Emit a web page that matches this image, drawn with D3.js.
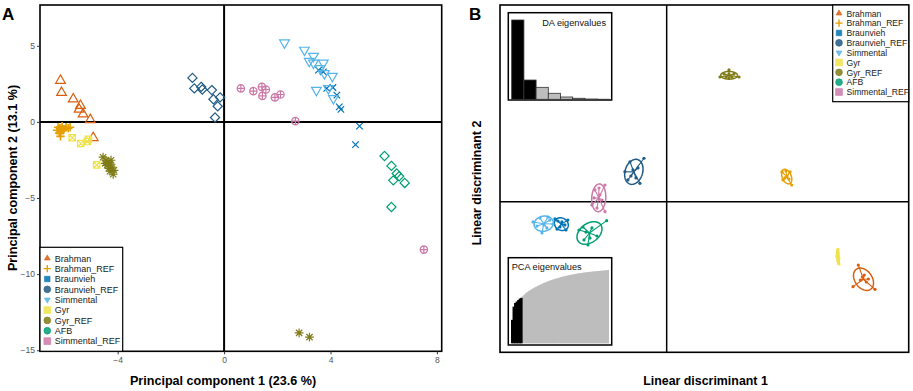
<!DOCTYPE html>
<html>
<head>
<meta charset="utf-8">
<script src="https://cdn.jsdelivr.net/npm/d3@7"></script>
<style>
  body { margin: 0; background: #fff; }
  svg { display: block; font-family: 'Liberation Sans', Arial, sans-serif; }
</style>
</head>
<body>
<svg id="chart" width="913" height="391"></svg>
<script>
// groups and their colours
var groups = ['Brahman', 'Brahman_REF', 'Braunvieh', 'Braunvieh_REF', 'Simmental', 'Gyr', 'Gyr_REF', 'AFB', 'Simmental_REF'];
var palette = ['#d95f0e', '#e69f00', '#0072b2', '#215b84', '#56b4e9', '#efe24a', '#7f7b16', '#009e73', '#cc79a7'];

// PCA scores [PC1, PC2]
var pcaBrahman = [[-6.15, 2.72], [-6.11, 1.93], [-5.67, 1.5], [-5.40, 1.07], [-5.45, 0.82], [-5.30, 0.51], [-5.03, 0.14], [-4.92, -1.04]];
var pcaBrahmanRef = [[-6.24, -0.35], [-6.17, -0.41], [-6.09, -0.28], [-6.02, -0.48], [-5.94, -0.35], [-6.13, -0.61], [-6.20, -0.74], [-5.86, -0.41], [-6.05, -0.55], [-5.79, -0.35], [-6.28, -0.55], [-6.15, -0.95]];
var pcaBraunvieh = [[3.55, 3.40], [3.73, 3.29], [3.86, 2.20], [4.09, 2.26], [4.24, 1.76], [4.33, 0.99], [4.39, 0.82], [5.09, -0.28], [4.94, -1.49]];
var pcaBraunviehRef = [[-1.19, 2.89], [-1.12, 2.20], [-0.86, 2.30], [-0.82, 2.13], [-0.46, 2.09], [-0.40, 1.49], [-0.15, 1.61], [-0.24, 1.03], [-0.34, 0.29]];
var pcaSimmental = [[2.27, 5.20], [3.02, 4.72], [3.36, 4.32], [3.20, 3.99], [3.36, 3.88], [3.73, 3.88], [3.61, 3.51], [3.77, 3.18], [4.07, 3.01], [3.47, 2.09], [4.11, 1.54], [3.92, 2.20]];
var pcaGyr = [[-5.71, -1.04], [-5.39, -1.42], [-5.14, -1.29], [-5.10, -1.14], [-4.79, -2.82]];
var pcaGyrRef = [[-4.55, -2.32], [-4.44, -2.52], [-4.36, -2.65], [-4.29, -2.78], [-4.21, -2.98], [-4.14, -3.18], [-4.32, -3.05], [-4.25, -2.52], [-4.40, -2.85], [-4.17, -3.44], [-4.47, -2.72], [-4.29, -3.24], [2.82, -13.86], [3.21, -14.14]];
var pcaAFB = [[6.03, -2.24], [6.29, -2.89], [6.49, -3.39], [6.36, -3.84], [6.79, -4.01], [6.58, -3.57], [6.29, -5.59]];
var pcaSimmentalRef = [[0.63, 2.20], [1.10, 2.02], [1.42, 2.30], [1.57, 2.13], [1.44, 1.71], [1.91, 1.61], [2.12, 1.80], [2.68, 0.05], [7.51, -8.39]];

// DAPC scores [LD1, LD2]
var ldaBrahman = [[15.97, -5.28], [17.36, -7.30], [15.53, -7.08], [16.31, -6.28], [16.64, -6.69], [16.14, -6.53], [16.47, -6.11], [16.81, -6.44]];
var ldaBrahmanRef = [[10.42, 1.39], [9.61, 2.48], [10.28, 2.48], [9.69, 1.81], [10.03, 2.14], [9.86, 1.98], [10.19, 1.89], [9.94, 2.56]];
var ldaBraunvieh = [[-9.31, -1.44], [-8.23, -1.53], [-8.39, -2.36], [-9.14, -2.28], [-8.73, -1.69], [-8.89, -2.11], [-8.48, -1.94], [-9.06, -1.61]];
var ldaBraunviehRef = [[-1.89, 3.62], [-3.06, 3.33], [-2.23, 1.53], [-3.48, 2.50], [-2.81, 2.66], [-2.56, 1.98], [-3.23, 1.81], [-2.39, 2.81], [-2.98, 2.14]];
var ldaSimmental = [[-11.14, -1.69], [-9.48, -1.86], [-10.56, -1.36], [-9.89, -1.28], [-9.98, -2.19], [-10.39, -2.61], [-9.73, -1.53], [-10.23, -1.94], [-10.81, -2.03]];
var ldaGyr = [[14.28, -3.97], [14.36, -5.19], [14.19, -4.44], [14.36, -4.69], [14.28, -4.19], [14.28, -4.94], [14.19, -4.61]];
var ldaGyrRef = [[4.44, 10.39], [6.03, 10.39], [5.19, 10.98], [4.78, 10.64], [5.61, 10.64], [5.19, 10.31], [4.94, 10.39], [5.44, 10.39], [5.19, 10.64]];
var ldaAFB = [[-5.00, -1.58], [-6.56, -3.61], [-7.31, -2.36], [-6.89, -3.19], [-6.23, -2.19], [-5.81, -2.86], [-6.98, -2.11], [-6.39, -3.03], [-6.73, -2.53]];
var ldaSimmentalRef = [[-5.14, 1.39], [-5.14, -0.83], [-5.98, 0.98], [-6.23, -0.28], [-5.56, 0.56], [-5.81, -0.53], [-5.39, 0.14], [-6.06, 0.31], [-5.64, 1.14]];

// eigenvalue insets
var daEigen = [100, 24.3, 15.1, 7.6, 2.9, 1.3, 0.4, 0.1];
var daRetained = 2;
var pcaCumVar = [32, 50, 55, 57, 59, 61, 62, 64, 66.2, 68.2, 69.8, 71.2, 72.6, 73.9, 75.1, 76.3, 77.4, 78.5, 79.5, 80.5,
  81.5, 82.4, 83.3, 84.1, 84.9, 85.7, 86.4, 87.1, 87.8, 88.4, 89.0, 89.6, 90.2, 90.8, 91.3, 91.8, 92.3, 92.8, 93.2, 93.6,
  94.0, 94.4, 94.8, 95.2, 95.5, 95.8, 96.1, 96.4, 96.7, 97.0, 97.3, 97.5, 97.7, 97.9, 98.1, 98.3, 98.5, 98.7, 98.9, 99.1,
  99.3, 99.5, 99.7, 100];
var pcaRetained = 7;

// axis ticks
var pc1Ticks = [-4, 0, 4, 8];
var pc2Ticks = [5, 0, -5, -10, -15];

var pcaSets = [pcaBrahman, pcaBrahmanRef, pcaBraunvieh, pcaBraunviehRef, pcaSimmental, pcaGyr, pcaGyrRef, pcaAFB, pcaSimmentalRef];
var ldaSets = [ldaBrahman, ldaBrahmanRef, ldaBraunvieh, ldaBraunviehRef, ldaSimmental, ldaGyr, ldaGyrRef, ldaAFB, ldaSimmentalRef];
var pcaShapes = ['triUp', 'plus', 'times', 'diamond', 'triDown', 'squareTimes', 'asterisk', 'diamond', 'circlePlus'];
var pcaSizes = [5.6, 4.2, 4.6, 4.6, 5.6, 4, 4.4, 4.6, 3.7];
var keyShapes = ['triUpF', 'plus', 'squareSm', 'circle', 'triDownF', 'square', 'circle', 'circle', 'square'];

function circlePath(r) {
  return 'M' + r + ',0A' + r + ',' + r + ' 0 1,1 ' + (-r) + ',0A' + r + ',' + r + ' 0 1,1 ' + r + ',0Z';
}

function shapePath(type, r) {
  var h = r * 0.866, q = r * 0.707, s = r * 0.8;
  switch (type) {
    case 'triUp':
    case 'triUpF':
      return 'M0,' + (-r) + 'L' + h + ',' + r / 2 + 'L' + (-h) + ',' + r / 2 + 'Z';
    case 'triDown':
    case 'triDownF':
      return 'M0,' + r + 'L' + h + ',' + (-r / 2) + 'L' + (-h) + ',' + (-r / 2) + 'Z';
    case 'plus':
      return 'M' + (-r) + ',0H' + r + 'M0,' + (-r) + 'V' + r;
    case 'times':
      return 'M' + (-q) + ',' + (-q) + 'L' + q + ',' + q + 'M' + q + ',' + (-q) + 'L' + (-q) + ',' + q;
    case 'diamond':
      return 'M0,' + (-r) + 'L' + r + ',0L0,' + r + 'L' + (-r) + ',0Z';
    case 'squareTimes':
      return 'M' + (-s) + ',' + (-s) + 'H' + s + 'V' + s + 'H' + (-s) + 'Z' +
        'M' + (-s) + ',' + (-s) + 'L' + s + ',' + s + 'M' + s + ',' + (-s) + 'L' + (-s) + ',' + s;
    case 'asterisk':
      return shapePath('plus', r) + shapePath('times', r);
    case 'circlePlus':
      return circlePath(r) + shapePath('plus', r);
    case 'circle':
      return circlePath(r);
    case 'square':
      return 'M' + (-r) + ',' + (-r) + 'H' + r + 'V' + r + 'H' + (-r) + 'Z';
    case 'squareSm':
      return shapePath('square', r * 0.8);
  }
}

var svg = d3.select('#chart');

// ---------------- panel A : PCA ----------------
var xA = d3.scaleLinear().domain([-6.92, 8.18]).range([40, 441.7]);
var yA = d3.scaleLinear().domain([-15.07, 7.68]).range([351.3, 5]);

var gA = svg.append('g').attr('class', 'panel-a');

gA.append('line')
  .attr('x1', xA.range()[0]).attr('x2', xA.range()[1])
  .attr('y1', yA(0)).attr('y2', yA(0))
  .attr('stroke', '#000').attr('stroke-width', 2);
gA.append('line')
  .attr('x1', xA(0)).attr('x2', xA(0))
  .attr('y1', yA.range()[0]).attr('y2', yA.range()[1])
  .attr('stroke', '#000').attr('stroke-width', 2);

pcaSets.forEach(function (pts, gi) {
  gA.append('g')
    .selectAll('path')
    .data(pts)
    .join('path')
    .attr('transform', function (d) { return 'translate(' + xA(d[0]) + ',' + yA(d[1]) + ')'; })
    .attr('d', shapePath(pcaShapes[gi], pcaSizes[gi]))
    .attr('fill', 'none')
    .attr('stroke', palette[gi])
    .attr('stroke-width', pcaShapes[gi] === 'plus' ? 1.6 : 1.2);
});

gA.append('rect')
  .attr('x', 40).attr('y', 5)
  .attr('width', 441.7 - 40).attr('height', 351.3 - 5)
  .attr('fill', 'none').attr('stroke', '#000').attr('stroke-width', 1.6);

var xAxisA = d3.axisBottom(xA).tickValues(pc1Ticks).tickSize(3).tickPadding(3);
var yAxisA = d3.axisLeft(yA).tickValues(pc2Ticks).tickSize(3).tickPadding(2);

gA.append('g').attr('transform', 'translate(0,351.3)').call(xAxisA);
gA.append('g').attr('transform', 'translate(40,0)').call(yAxisA);
gA.selectAll('.domain').remove();
gA.selectAll('.tick line').attr('stroke', '#333');
gA.selectAll('.tick text').attr('fill', '#555').style('font-size', '8.5px');

// legend A
var legA = gA.append('g').attr('class', 'legend');
legA.append('rect')
  .attr('x', 40).attr('y', 247.3).attr('width', 82.7).attr('height', 104)
  .attr('fill', '#fff').attr('stroke', '#000').attr('stroke-width', 1.2);

function drawLegend(g, x0, y0, step, fs) {
  groups.forEach(function (name, i) {
    var y = y0 + i * step;
    var filled = keyShapes[i] !== 'plus';
    g.append('path')
      .attr('transform', 'translate(' + x0 + ',' + y + ')')
      .attr('d', shapePath(keyShapes[i], filled ? 3.4 : 3.6))
      .attr('fill', filled ? palette[i] : 'none')
      .attr('fill-opacity', 0.85)
      .attr('stroke', palette[i])
      .attr('stroke-width', filled ? 0.6 : 1.4);
    g.append('text')
      .attr('x', x0 + 7.5).attr('y', y + 3.2)
      .style('font-size', fs + 'px')
      .attr('fill', '#222')
      .text(name);
  });
}
drawLegend(legA, 47.3, 258.3, 10.35, 9);

gA.append('text')
  .attr('x', 223).attr('y', 385)
  .attr('text-anchor', 'middle')
  .style('font-size', '12.6px').style('font-weight', 'bold')
  .text('Principal component 1 (23.6 %)');
gA.append('text')
  .attr('transform', 'translate(17,178) rotate(-90)')
  .attr('text-anchor', 'middle')
  .style('font-size', '12.6px').style('font-weight', 'bold')
  .text('Principal component 2 (13.1 %)');

svg.append('text').attr('x', 2).attr('y', 20)
  .style('font-size', '17px').style('font-weight', 'bold').text('A');

// ---------------- panel B : DAPC ----------------
var xB = d3.scaleLinear().domain([-13.89, 20.17]).range([500, 908.7]);
var yB = d3.scaleLinear().domain([-12.55, 16.39]).range([352.3, 5]);

var gB = svg.append('g').attr('class', 'panel-b');

gB.append('line')
  .attr('x1', xB.range()[0]).attr('x2', xB.range()[1])
  .attr('y1', yB(0)).attr('y2', yB(0))
  .attr('stroke', '#000').attr('stroke-width', 1.5);
gB.append('line')
  .attr('x1', xB(0)).attr('x2', xB(0))
  .attr('y1', yB.range()[0]).attr('y2', yB.range()[1])
  .attr('stroke', '#000').attr('stroke-width', 1.5);

var line = d3.line()
  .x(function (d) { return xB(d[0]); })
  .y(function (d) { return yB(d[1]); })
  .curve(d3.curveLinearClosed);

ldaSets.forEach(function (pts, gi) {
  var col = palette[gi]
    , mx = d3.mean(pts, function (d) { return d[0]; })
    , my = d3.mean(pts, function (d) { return d[1]; })
    , n = pts.length
    , sxx = d3.sum(pts, function (d) { return (d[0] - mx) * (d[0] - mx); }) / (n - 1)
    , syy = d3.sum(pts, function (d) { return (d[1] - my) * (d[1] - my); }) / (n - 1)
    , sxy = d3.sum(pts, function (d) { return (d[0] - mx) * (d[1] - my); }) / (n - 1)
    , tr = sxx + syy
    , det = sxx * syy - sxy * sxy
    , disc = Math.sqrt(Math.max(tr * tr / 4 - det, 0))
    , l1 = tr / 2 + disc
    , l2 = Math.max(tr / 2 - disc, 0)
    , th = 0.5 * Math.atan2(2 * sxy, sxx - syy)
    , a = 1.5 * Math.sqrt(l1)
    , b = 1.5 * Math.sqrt(l2);

  var ell = d3.range(0, 72).map(function (i) {
    var t = i / 72 * 2 * Math.PI;
    return [mx + a * Math.cos(t) * Math.cos(th) - b * Math.sin(t) * Math.sin(th),
            my + a * Math.cos(t) * Math.sin(th) + b * Math.sin(t) * Math.cos(th)];
  });

  var g = gB.append('g');
  g.selectAll('line')
    .data(pts)
    .join('line')
    .attr('x1', xB(mx)).attr('y1', yB(my))
    .attr('x2', function (d) { return xB(d[0]); })
    .attr('y2', function (d) { return yB(d[1]); })
    .attr('stroke', col).attr('stroke-width', 1.1);
  g.append('path')
    .attr('d', line(ell))
    .attr('fill', 'none').attr('stroke', col).attr('stroke-width', 1.5);
  g.selectAll('circle')
    .data(pts)
    .join('circle')
    .attr('cx', function (d) { return xB(d[0]); })
    .attr('cy', function (d) { return yB(d[1]); })
    .attr('r', 1.6)
    .attr('fill', col);
});

gB.append('rect')
  .attr('x', 500).attr('y', 5)
  .attr('width', 908.7 - 500).attr('height', 352.3 - 5)
  .attr('fill', 'none').attr('stroke', '#000').attr('stroke-width', 1.6);

// DA eigenvalues inset
var daBox = gB.append('g');
daBox.append('rect')
  .attr('x', 508.3).attr('y', 12.7).attr('width', 103.4).attr('height', 87.3)
  .attr('fill', '#fff').attr('stroke', '#000').attr('stroke-width', 1.5);
var xDa = d3.scaleBand().domain(d3.range(daEigen.length)).range([511.7, 609.3]).padding(0);
var yDa = d3.scaleLinear().domain([0, d3.max(daEigen)]).range([99.3, 20]);
daBox.selectAll('rect.bar')
  .data(daEigen)
  .join('rect')
  .attr('class', 'bar')
  .attr('x', function (d, i) { return xDa(i); })
  .attr('width', xDa.bandwidth())
  .attr('y', function (d) { return yDa(d); })
  .attr('height', function (d) { return yDa(0) - yDa(d); })
  .attr('fill', function (d, i) { return i < daRetained ? '#000' : '#bdbdbd'; })
  .attr('stroke', '#333').attr('stroke-width', 0.8);
daBox.append('text')
  .attr('x', 606).attr('y', 25.5).attr('text-anchor', 'end')
  .style('font-size', '9.2px').attr('fill', '#111')
  .text('DA eigenvalues');

// PCA eigenvalues inset
var pcaBox = gB.append('g');
pcaBox.append('rect')
  .attr('x', 508.3).attr('y', 257.7).attr('width', 103.4).attr('height', 87.3)
  .attr('fill', '#fff').attr('stroke', '#000').attr('stroke-width', 1.5);
var xPc = d3.scaleBand().domain(d3.range(pcaCumVar.length)).range([511, 609]).padding(0);
var yPc = d3.scaleLinear().domain([0, 100]).range([343.3, 270]);
pcaBox.selectAll('rect.bar')
  .data(pcaCumVar)
  .join('rect')
  .attr('class', 'bar')
  .attr('x', function (d, i) { return xPc(i); })
  .attr('width', function (d, i) { return i === pcaCumVar.length - 1 ? xPc.bandwidth() : xPc.bandwidth() + 0.9; })
  .attr('y', function (d) { return yPc(d); })
  .attr('height', function (d) { return yPc(0) - yPc(d); })
  .attr('fill', function (d, i) { return i < pcaRetained ? '#000' : '#bdbdbd'; })
  .attr('stroke', 'none');
// keep the black retained bars on top of the grey overlap
pcaBox.selectAll('rect.bar').filter(function (d, i) { return i < pcaRetained; }).raise();
pcaBox.append('text')
  .attr('x', 511.7).attr('y', 270).attr('text-anchor', 'start')
  .style('font-size', '9.2px').attr('fill', '#111')
  .text('PCA eigenvalues');

// legend B
var legB = gB.append('g').attr('class', 'legend');
legB.append('rect')
  .attr('x', 832.7).attr('y', 5).attr('width', 76).attr('height', 96.7)
  .attr('fill', '#fff').attr('stroke', '#000').attr('stroke-width', 1.2);
drawLegend(legB, 839, 13.3, 9.84, 8.6);

gB.append('text')
  .attr('x', 705.5).attr('y', 385)
  .attr('text-anchor', 'middle')
  .style('font-size', '12.4px').style('font-weight', 'bold')
  .text('Linear discriminant 1');
gB.append('text')
  .attr('transform', 'translate(481,183) rotate(-90)')
  .attr('text-anchor', 'middle')
  .style('font-size', '12.4px').style('font-weight', 'bold')
  .text('Linear discriminant 2');

svg.append('text').attr('x', 469).attr('y', 20)
  .style('font-size', '17px').style('font-weight', 'bold').text('B');
</script>
</body>
</html>
